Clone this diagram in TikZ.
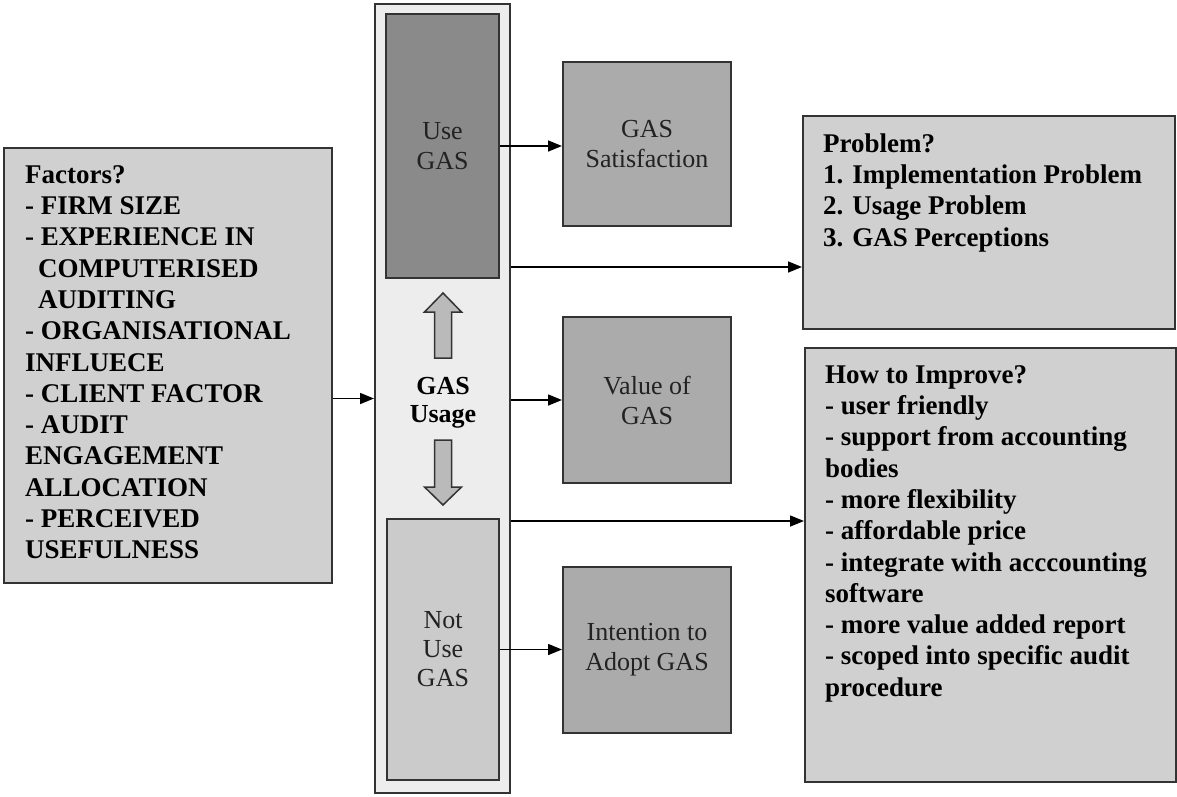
\documentclass[tikz,border=0pt]{standalone}
\usepackage{fontspec}
\setmainfont{Liberation Serif}
\usetikzlibrary{arrows.meta}

\definecolor{edge}{HTML}{333333}
\definecolor{listfill}{HTML}{D0D0D0}
\definecolor{midfill}{HTML}{ABABAB}
\definecolor{usefill}{HTML}{8A8A8A}
\definecolor{notfill}{HTML}{CBCBCB}
\definecolor{colfill}{HTML}{EDEDED}
\definecolor{blockfill}{HTML}{BABABA}
\definecolor{ink}{HTML}{222222}

% fixed first-line height so list texts hang from a known top
\newcommand{\firstline}{\rule{0pt}{21pt}}

\tikzset{
  panel/.style={draw=edge, line width=2pt, rectangle, inner sep=0pt},
  listbox/.style={panel, fill=listfill},
  midbox/.style={panel, fill=midfill, minimum width=168pt, align=center,
    text=ink, font=\fontsize{26}{30}\selectfont},
  listtext/.style={anchor=north west, inner sep=0pt, align=left,
    font=\fontsize{27}{31.3}\selectfont\bfseries},
  arr/.style={line width=1.5pt, -{Triangle[length=14pt,width=11pt]}},
  block/.style={draw=edge, line width=1.5pt, fill=blockfill, line join=miter}
}

\begin{document}
\begin{tikzpicture}[x=1pt, y=-1pt]
  \useasboundingbox (0,0) rectangle (1177,796);

  % left list of factors
  \node[listbox, minimum width=328pt, minimum height=435pt] (factors) at (168,365.5) {};
  \node[listtext] (factorsText) at (25,162) {\firstline Factors?\\
    - FIRM SIZE\\
    - EXPERIENCE IN\\
    \hspace*{13pt}COMPUTERISED\\
    \hspace*{13pt}AUDITING\\
    - ORGANISATIONAL\\
    INFLUECE\\
    - CLIENT FACTOR\\
    - AUDIT\\
    ENGAGEMENT\\
    ALLOCATION\\
    - PERCEIVED\\
    USEFULNESS};

  % central usage column
  \node[panel, fill=colfill, minimum width=135pt, minimum height=789pt] (column) at (442.5,398.5) {};
  \node[panel, fill=usefill, minimum width=113pt, minimum height=264pt, align=center,
        text=ink, font=\fontsize{26}{30}\selectfont] (useBox) at (442.5,146) {Use\\GAS};
  \node[panel, fill=notfill, minimum width=112pt, minimum height=261pt, align=center,
        text=ink, font=\fontsize{26}{29}\selectfont] (notUse) at (443,649.5) {Not\\Use\\GAS};
  \node[inner sep=0pt, align=center, font=\fontsize{26}{28.5}\selectfont\bfseries]
        (usage) at (443,403) {GAS\\Usage};

  % block arrows inside the column
  \draw[block] (443,293) -- (461.5,312) -- (451.5,312) -- (451.5,358)
               -- (434.5,358) -- (434.5,312) -- (424.5,312) -- cycle;
  \draw[block] (443,505) -- (461.5,487) -- (451.5,487) -- (451.5,440)
               -- (434.5,440) -- (434.5,487) -- (424.5,487) -- cycle;

  % outcome boxes
  \node[midbox, minimum height=164pt] (sat) at (647,144) {GAS\\Satisfaction};
  \node[midbox, minimum height=166pt] (value) at (647,400) {Value of\\GAS};
  \node[midbox, minimum height=166pt] (intent) at (647,650) {Intention to\\Adopt GAS};

  % right-hand lists
  \node[listbox, minimum width=372pt, minimum height=213pt] (problem) at (989,222.5) {};
  \node[listtext] (problemText) at (823,131) {\firstline Problem?\\
    1. Implementation Problem\\
    2. Usage Problem\\
    3. GAS Perceptions};

  \node[listbox, minimum width=371pt, minimum height=434pt] (improve) at (990.5,565) {};
  \node[listtext] (improveText) at (825,362) {\firstline How to Improve?\\
    - user friendly\\
    - support from accounting\\
    bodies\\
    - more flexibility\\
    - affordable price\\
    - integrate with acccounting\\
    software\\
    - more value added report\\
    - scoped into specific audit\\
    procedure};

  % connectors
  \draw[arr] (column.west -| factors.east) -- (column.west);
  \draw[arr] (useBox.east) -- (useBox.east -| sat.west);
  \draw[arr] (value.west -| column.east) -- (value.west);
  \draw[arr] (notUse.east) -- (notUse.east -| intent.west);
  \coordinate (probIn) at ([yshift=-44.5pt]problem.west);
  \coordinate (impIn) at ([yshift=44pt]improve.west);
  \draw[arr] (probIn -| column.east) -- (probIn);
  \draw[arr] (impIn -| column.east) -- (impIn);
\end{tikzpicture}
\end{document}
